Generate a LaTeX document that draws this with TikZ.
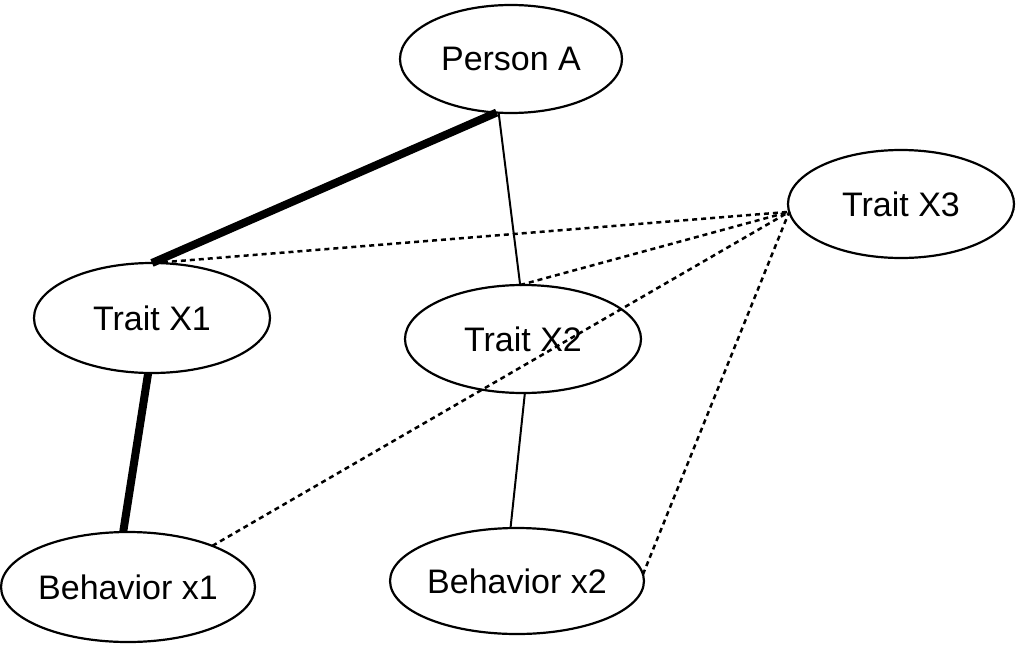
\documentclass[tikz,border=0pt]{standalone}
\usepackage{fontspec}
\setmainfont{Liberation Sans}
\usetikzlibrary{shapes.geometric}
\begin{document}
\begin{tikzpicture}[x=1pt,y=-1pt,
  oval/.style={ellipse, draw, line width=2.2pt, inner sep=0pt, outer sep=0pt,
    font=\fontsize{34}{40}\selectfont},
  strong/.style={line width=8pt},
  plain/.style={line width=2pt},
  weak/.style={line width=2.5pt, dash pattern=on 5pt off 4pt}]
  \useasboundingbox[fill=white] (0,0) rectangle (1017,645);

  \node[oval, minimum width=222pt, minimum height=108pt] (pa) at (511,59) {Person A};
  \node[oval, minimum width=226pt, minimum height=108pt] (x3) at (901,204) {Trait X3};
  \node[oval, minimum width=236pt, minimum height=110pt] (x1) at (152,318) {Trait X1};
  \node[oval, minimum width=236pt, minimum height=108pt] (x2) at (523,339) {Trait X2};
  \node[oval, minimum width=242pt, minimum height=110pt] (b1) at (128,587) {Behavior x1};
  \node[oval, minimum width=240pt, minimum height=106pt] (b2) at (517,581) {Behavior x2};

  % strong links
  \draw[strong] (pa.-105) -- (x1.90);
  \draw[strong] (x1.-94) -- (b1.95);
  % plain links
  \draw[plain] (pa.-103) -- (x2.93);
  \draw[plain] (x2.-88) -- (b2.97);
  % weak links to Trait X3
  \draw[weak] (x1.88) -- (x3.-176);
  \draw[weak] (x2.93) -- (x3.-176);
  \draw[weak] (b1.26) -- (x3.-176);
  \draw[weak] (b2.3) -- (x3.-176);
\end{tikzpicture}
\end{document}
